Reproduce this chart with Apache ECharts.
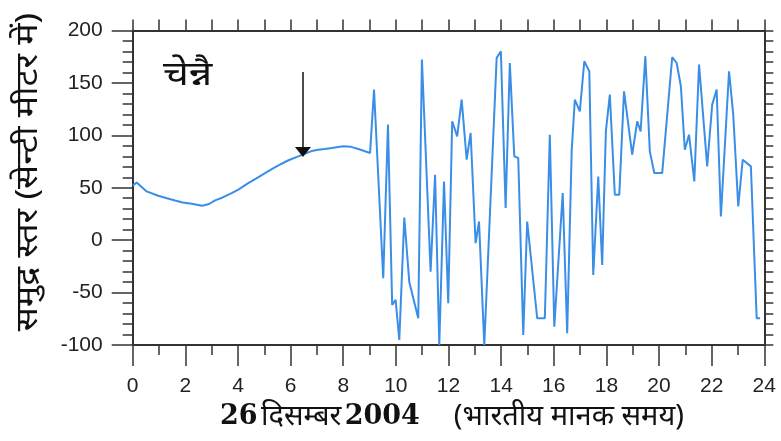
<!DOCTYPE html>
<html>
<head>
<meta charset="utf-8">
<script src="https://cdn.jsdelivr.net/npm/echarts@6/dist/echarts.min.js"></script>
<style>
  html, body { margin: 0; padding: 0; background: #fff; }
  #chart { width: 781px; height: 441px; }
</style>
</head>
<body>
<div id="chart"></div>
<script>
// Chennai tide gauge, 26 December 2004 (hours IST vs sea level in cm)
const hoursIST = [
  0, 0.15, 0.53, 0.97, 1.3, 1.61, 1.9, 2.24, 2.64, 2.9, 3.13, 3.4, 3.76, 4.0, 4.39, 4.7, 5.03, 5.3, 5.66, 5.9,
  6.29, 6.55, 6.8, 7.05, 7.3, 7.56, 8.0, 8.3, 8.57, 8.8, 9.02,
  9.17, 9.52, 9.70, 9.86, 9.99, 10.13, 10.32, 10.51, 10.85, 10.99, 11.32, 11.49, 11.65, 11.83, 11.99,
  12.14, 12.33, 12.50, 12.69, 12.84, 13.03, 13.16, 13.36, 13.83, 13.99, 14.17, 14.33, 14.50, 14.65, 14.84,
  14.99, 15.37, 15.66, 15.85, 16.02, 16.34, 16.51, 16.68, 16.80, 16.99, 17.16, 17.35, 17.50, 17.69, 17.84,
  17.98, 18.13, 18.32, 18.49, 18.67, 18.98, 19.17, 19.30, 19.48, 19.65, 19.82, 20.12, 20.50, 20.67, 20.83,
  20.98, 21.14, 21.34, 21.52, 21.83, 22.02, 22.19, 22.35, 22.66, 22.82, 23.01, 23.18, 23.49, 23.71, 23.84
];
const seaLevelCm = [
  52, 55, 46.5, 42.4, 40, 37.9, 36, 34.7, 32.8, 34.5, 37.9, 40.5, 44.8, 48, 54.4, 59, 64, 68, 72.9, 76,
  79.9, 82.5, 85, 86.3, 87, 87.9, 89.5, 89, 87, 85, 83.2,
  143.6, -36.3, 110.2, -61.8, -57, -95.2, 21.6, -40, -74.5, 172.3, -30, 62.4, -100, 56, -60.1,
  113.4, 99, 134, 76.8, 102.3, -2.8, 17.8, -100, 173.9, 180.2, 30.6, 169, 79.9, 78.4, -90.4,
  17.8, -74.5, -74.5, 100.6, -82.5, 45, -88.8, 84.7, 134, 122.9, 170.7, 161.1, -33.1, 60.8, -23.6,
  103.8, 138.9, 43.3, 43.3, 142, 81.5, 113.4, 103.8, 175.5, 84.7, 64, 64, 174.5, 169, 146.8,
  86.3, 100.6, 56, 167.5, 70.4, 129.3, 143.6, 22.6, 161.1, 119.7, 32.1, 76.8, 70.4, -74.5, -74.5
];

// Arrow marking the tsunami generation time
const arrowX = 6.47;
const arrowFrom = 160.4;
const arrowTo = 84;

const stationName = 'चेन्नै';
const yTitle = 'समुद्र स्तर (सेन्टी मीटर में)';
const xTitleDate = ['26', 'दिसम्बर', '2004'];
const xTitleZone = '(भारतीय मानक समय)';

const points = hoursIST.map((h, i) => [h, seaLevelCm[i]]);

const axisColor = '#333';
const labelFont = '"Liberation Sans", Arial, sans-serif';
const hindiFont = '"Noto Sans", "DejaVu Sans", sans-serif';
const numFont = '"DejaVu Serif", "Liberation Serif", serif';

const chart = echarts.init(document.getElementById('chart'), null, { renderer: 'canvas' });

chart.setOption({
  animation: false,
  backgroundColor: '#fff',
  grid: { left: 132.7, right: 16.7, top: 30.5, bottom: 96 },
  xAxis: [
    {
      type: 'value', position: 'bottom', min: 0, max: 24, interval: 2,
      axisLine: { show: true, onZero: false, lineStyle: { color: axisColor, width: 2 } },
      axisTick: { show: true, inside: false, length: 21, lineStyle: { color: axisColor, width: 1.5 } },
      minorTick: { show: true, splitNumber: 2, length: 10, lineStyle: { color: axisColor, width: 1.5 } },
      axisLabel: { margin: 31, fontSize: 21, color: '#222', fontFamily: labelFont },
      splitLine: { show: false }
    },
    {
      type: 'value', position: 'top', min: 0, max: 24, interval: 1,
      axisLine: { show: true, onZero: false, lineStyle: { color: axisColor, width: 2 } },
      axisTick: { show: true, inside: false, length: 11, lineStyle: { color: axisColor, width: 1.5 } },
      axisLabel: { show: false },
      splitLine: { show: false }
    }
  ],
  yAxis: [
    {
      type: 'value', position: 'left', min: -100, max: 200, interval: 50,
      axisLine: { show: true, onZero: false, lineStyle: { color: axisColor, width: 2 } },
      axisTick: { show: true, inside: false, length: 21, lineStyle: { color: axisColor, width: 1.5 } },
      minorTick: { show: true, splitNumber: 5, length: 10, lineStyle: { color: axisColor, width: 1.5 } },
      axisLabel: { margin: 30, fontSize: 21, color: '#222', fontFamily: labelFont },
      splitLine: { show: false }
    },
    {
      type: 'value', position: 'right', min: -100, max: 200, interval: 10,
      axisLine: { show: true, onZero: false, lineStyle: { color: axisColor, width: 2 } },
      axisTick: { show: true, inside: false, length: 9, lineStyle: { color: axisColor, width: 1.5 } },
      axisLabel: { show: false },
      splitLine: { show: false }
    }
  ],
  series: [
    {
      type: 'line',
      data: points,
      showSymbol: false,
      symbol: 'none',
      clip: true,
      lineStyle: { color: '#3a8ee8', width: 2 },
      markLine: {
        silent: true,
        animation: false,
        symbol: ['none', 'triangle'],
        symbolSize: [16, 10],
        label: { show: false },
        lineStyle: { color: '#111', width: 1.5, type: 'solid' },
        data: [[{ coord: [arrowX, arrowFrom] }, { coord: [arrowX, arrowTo] }]]
      }
    }
  ],
  graphic: [
    {
      type: 'text', x: 163, y: 58, scaleX: 1.2,
      style: { text: stationName, fontSize: 34, fill: '#111', fontFamily: hindiFont }
    },
    {
      type: 'text', x: 28, y: 172, rotation: Math.PI / 2, scaleX: 1.15,
      style: {
        text: yTitle, fontSize: 31, fill: '#111', fontFamily: hindiFont,
        align: 'center', verticalAlign: 'middle'
      }
    },
    {
      type: 'text', x: 452, y: 417,
      style: {
        text: '{n|' + xTitleDate[0] + '} {h|' + xTitleDate[1] + '} {n|' + xTitleDate[2] + '}{z|' + xTitleZone + '}',
        align: 'center', verticalAlign: 'middle',
        rich: {
          n: { fontSize: 27, fontWeight: 'bold', fontFamily: numFont, fill: '#111' },
          h: { fontSize: 29, fontFamily: hindiFont, fill: '#111' },
          z: { fontSize: 29, fontFamily: hindiFont, fill: '#111', padding: [0, 0, 0, 34] }
        }
      }
    }
  ]
});
</script>
</body>
</html>
